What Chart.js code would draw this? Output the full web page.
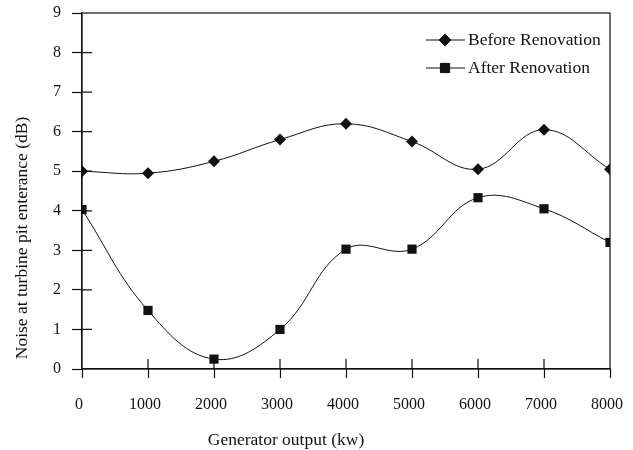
<!DOCTYPE html>
<html>
<head>
<meta charset="utf-8">
<script src="https://cdn.jsdelivr.net/npm/chart.js@4/dist/chart.umd.min.js"></script>
<style>
  html, body { margin: 0; padding: 0; background: #fff; }
  #wrap { width: 633px; height: 450px; }
</style>
</head>
<body>
<div id="wrap"><canvas id="myChart"></canvas></div>
<script>
// generator output (kw)
const outputs = [0, 1000, 2000, 3000, 4000, 5000, 6000, 7000, 8000];
// noise at turbine pit entrance (dB)
const before = [5.0, 4.95, 5.25, 5.8, 6.2, 5.75, 5.05, 6.05, 5.05];
const after = [4.03, 1.48, 0.25, 1.0, 3.03, 3.03, 4.33, 4.05, 3.2];

const seriesNames = ["Before Renovation", "After Renovation"];
const xTitle = "Generator output (kw)";
const yTitle = "Noise at turbine pit enterance (dB)";

const serif = "'Liberation Serif', 'Times New Roman', serif";
const ink = "#111";

const toPoints = (vals) => outputs.map((x, i) => ({ x: x, y: vals[i] }));

// box round the plot, ticks that cross the axes, legend and axis titles
const framePlugin = {
  id: "frame",
  afterDraw(chart) {
    const { ctx, chartArea: a, scales } = chart;
    ctx.save();
    ctx.strokeStyle = ink;
    ctx.lineWidth = 1.2;
    ctx.strokeRect(a.left, a.top, a.right - a.left, a.bottom - a.top);

    ctx.beginPath();
    scales.x.ticks.forEach((t) => {
      const px = scales.x.getPixelForValue(t.value);
      if (px <= a.left + 1 || px >= a.right - 1) return;
      ctx.moveTo(px, a.bottom);
      ctx.lineTo(px, a.bottom - 10);
    });
    scales.y.ticks.forEach((t) => {
      const py = scales.y.getPixelForValue(t.value);
      if (py <= a.top + 1 || py >= a.bottom - 1) return;
      ctx.moveTo(a.left, py);
      ctx.lineTo(a.left + 10, py);
    });
    ctx.stroke();

    // legend
    ctx.font = "17.5px " + serif;
    ctx.textBaseline = "middle";
    ctx.fillStyle = ink;
    chart.data.datasets.forEach((ds, i) => {
      const rowY = 40 + i * 28;
      ctx.beginPath();
      ctx.lineWidth = 1;
      ctx.moveTo(426, rowY);
      ctx.lineTo(465, rowY);
      ctx.stroke();
      Chart.helpers.drawPoint(ctx, {
        pointStyle: ds.pointStyle,
        radius: ds.pointRadius,
        borderWidth: 1
      }, 445, rowY);
      ctx.fill();
      ctx.fillText(ds.label, 468, rowY);
    });

    // axis titles
    ctx.textAlign = "center";
    ctx.fillText(xTitle, 286, 440);
    ctx.translate(22, 238);
    ctx.rotate(-Math.PI / 2);
    ctx.fillText(yTitle, 0, 0);
    ctx.restore();
  }
};

new Chart("myChart", {
  type: "line",
  data: {
    datasets: [
      {
        label: seriesNames[0],
        data: toPoints(before),
        borderColor: ink,
        backgroundColor: ink,
        borderWidth: 1,
        pointStyle: "rectRot",
        pointRadius: 6,
        pointBorderWidth: 0,
        tension: 0.4
      },
      {
        label: seriesNames[1],
        data: toPoints(after),
        borderColor: ink,
        backgroundColor: ink,
        borderWidth: 1,
        pointStyle: "rect",
        pointRadius: 6.5,
        pointBorderWidth: 0,
        tension: 0.4
      }
    ]
  },
  options: {
    responsive: true,
    maintainAspectRatio: false,
    animation: false,
    layout: { padding: { top: 13, right: 23, left: 0, bottom: 0 } },
    plugins: {
      legend: { display: false },
      tooltip: { enabled: false }
    },
    scales: {
      x: {
        type: "linear",
        min: 0,
        max: 8000,
        afterFit: (s) => {
          s.height = 81;
          s.paddingLeft = 0;
          s.paddingRight = 0;
        },
        ticks: {
          stepSize: 1000,
          padding: 17,
          labelOffset: -3,
          color: ink,
          font: { family: serif, size: 16 },
          callback: (v) => String(v)
        },
        grid: { drawOnChartArea: false, tickLength: 9, color: ink, tickWidth: 1.2 },
        border: { color: ink, width: 1.2 }
      },
      y: {
        min: 0,
        max: 9,
        afterFit: (s) => {
          s.width = 82;
          s.paddingTop = 0;
          s.paddingBottom = 0;
        },
        ticks: {
          stepSize: 1,
          padding: 11,
          color: ink,
          font: { family: serif, size: 16 }
        },
        grid: { drawOnChartArea: false, tickLength: 10, color: ink, tickWidth: 1.2 },
        border: { color: ink, width: 1.2 }
      }
    }
  },
  plugins: [framePlugin]
});
</script>
</body>
</html>
